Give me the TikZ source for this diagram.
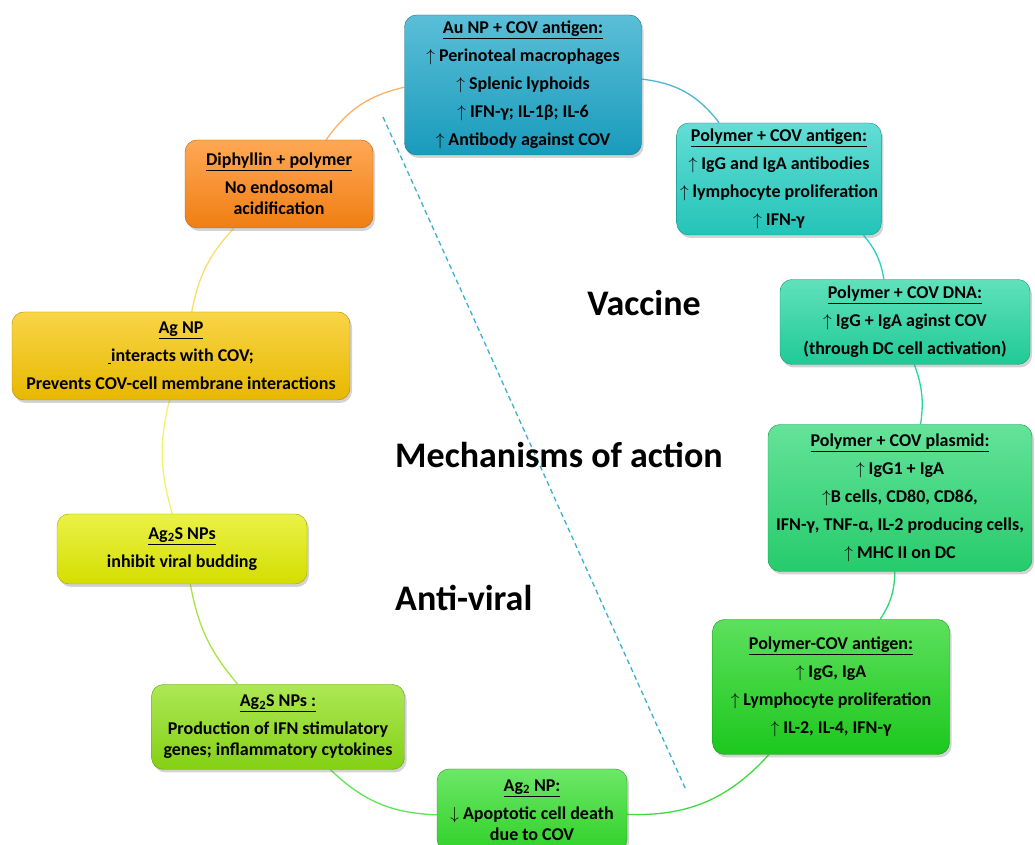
\documentclass[tikz,border=0pt]{standalone}
\usepackage{fontspec}
\setmainfont{Carlito}
\usetikzlibrary{backgrounds,shadows}
\definecolor{aublue}{HTML}{1BA5C8}
\definecolor{polyteal}{HTML}{26D0C4}
\definecolor{dnateal}{HTML}{22D6A0}
\definecolor{plasgreen}{HTML}{28D872}
\definecolor{antgreen}{HTML}{1ED41E}
\definecolor{agtgreen}{HTML}{34DE2C}
\definecolor{limegreen}{HTML}{8CDE14}
\definecolor{lemon}{HTML}{E2EC00}
\definecolor{golden}{HTML}{F6C400}
\definecolor{tangerine}{HTML}{FF8614}
\definecolor{dashblue}{HTML}{3AAFD0}
\tikzset{
  effect/.style   = {draw=#1!70!black, thin, rounded corners=12pt,
                     top color=#1!72!white, bottom color=#1!94!black, align=center,
                     font=\fontsize{18}{21}\selectfont\bfseries,
                     drop shadow={opacity=0.35, shadow xshift=2pt, shadow yshift=-3pt}},
  ring/.style     = {line width=1.3pt, draw=#1},
  heading/.style  = {font=\fontsize{36}{42}\selectfont\bfseries, inner sep=0pt},
}
\newcommand{\gap}{\\[7pt]}

\begin{document}
\begin{tikzpicture}[x=1pt, y=1pt]
  \useasboundingbox (0,0) rectangle (1035,845);

  \node[effect=aublue, minimum width=237pt, minimum height=140pt] (au) at (523,760)
       {\underline{Au NP + COV antigen:}\gap $\uparrow$ Perinoteal macrophages\gap
        $\uparrow$ Splenic lyphoids\gap $\uparrow$ IFN-γ; IL-1β; IL-6\gap
        $\uparrow$ Antibody against COV};
  \node[effect=polyteal, minimum width=198pt, minimum height=112pt] (pcov) at (779,666)
       {\underline{Polymer + COV antigen:}\gap $\uparrow$ IgG and IgA antibodies\gap
        $\uparrow$ lymphocyte proliferation\gap $\uparrow$ IFN-γ};
  \node[effect=dnateal, minimum width=250pt, minimum height=85pt] (pdna) at (905,523)
       {\underline{Polymer + COV DNA:}\gap $\uparrow$ IgG + IgA aginst COV\gap
        (through DC cell activation)};
  \node[effect=plasgreen, minimum width=264pt, minimum height=147pt] (pplas) at (900,347)
       {\underline{Polymer + COV plasmid:}\gap $\uparrow$ IgG1 + IgA\gap
        $\uparrow$B cells, CD80, CD86,\gap IFN-γ, TNF-α, IL-2 producing cells,\gap
        $\uparrow$ MHC II on DC};
  \node[effect=antgreen, minimum width=237pt, minimum height=135pt] (pcova) at (831,158)
       {\underline{Polymer-COV antigen:}\gap $\uparrow$ IgG, IgA\gap
        $\uparrow$ Lymphocyte proliferation\gap $\uparrow$ IL-2, IL-4, IFN-γ};
  \node[effect=agtgreen, minimum width=190pt, minimum height=82pt] (agtwo) at (532,35)
       {\underline{Ag\textsubscript{2} NP:}\gap $\downarrow$ Apoptotic cell death\\ due to COV};
  \node[effect=limegreen, minimum width=253pt, minimum height=85pt] (agsb) at (278,118)
       {\underline{Ag\textsubscript{2}S NPs :}\gap Production of IFN stimulatory\\
        genes; inflammatory cytokines};
  \node[effect=lemon, minimum width=250pt, minimum height=70pt] (agsi) at (182,296)
       {\underline{Ag\textsubscript{2}S NPs}\gap inhibit viral budding};
  \node[effect=golden, minimum width=338pt, minimum height=88pt] (agnp) at (181,489)
       {\underline{Ag NP}\gap \underline{\hspace{3pt}}interacts with COV;\gap
        Prevents COV-cell membrane interactions};
  \node[effect=tangerine, minimum width=188pt, minimum height=88pt] (diph) at (279,661)
       {\underline{Diphyllin + polymer}\gap No endosomal\\ acidification};

  \coordinate (cuttop) at (383,728);
  \coordinate (cutbot) at (686,55);

  \begin{scope}[on background layer]
    \draw[ring=aublue!80!white] (au) to[bend left=23] (pcov);
    \draw[ring=polyteal] (pcov) to[bend left=15] (pdna);
    \draw[ring=dnateal] (pdna) to[bend left=14] (pplas);
    \draw[ring=plasgreen] (pplas) to[bend left=16] (pcova);
    \draw[ring=antgreen!85!white] (pcova) to[bend left=25] (agtwo);
    \draw[ring=agtgreen!80!white] (agtwo) to[bend left=21] (agsb);
    \draw[ring=limegreen!80!white] (agsb) to[bend left=15] (agsi);
    \draw[ring=lemon!60!white] (agsi) to[bend left=15] (agnp);
    \draw[ring=golden!60!white] (agnp) to[bend left=16] (diph);
    \draw[ring=tangerine!65!white] (diph) to[bend left=21] (au);
    \draw[dashblue, line width=1.3pt, dash pattern=on 5pt off 3.5pt] (cuttop) -- (cutbot);
  \end{scope}

  \node[heading] (vac) at (644,542) {Vaccine};
  \node[heading, anchor=west] (moa) at (395,390) {Mechanisms of action};
  \node[heading, anchor=west] (anti) at (395,247) {Anti-viral};
\end{tikzpicture}
\end{document}
